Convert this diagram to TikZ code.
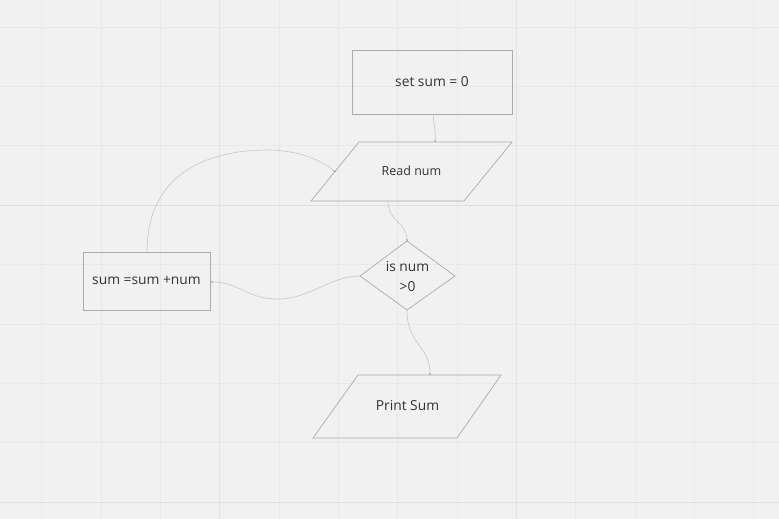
\documentclass[tikz,border=0pt]{standalone}
\usepackage{fontspec}
\setmainfont{Open Sans}
\usetikzlibrary{arrows.meta}
\definecolor{bg}{HTML}{F1F1F1}
\definecolor{gridminor}{HTML}{E8E8E8}
\definecolor{gridmajor}{HTML}{E0E0E0}
\definecolor{shapeline}{HTML}{ABABAB}
\definecolor{conn}{HTML}{C6C6C6}
\definecolor{txt}{HTML}{333333}
\tikzset{
  box/.style={draw=shapeline, line width=0.9pt},
  slant/.style={draw=shapeline, line width=0.7pt, line join=miter},
  label/.style={text=txt, font=\fontsize{13.8}{20}\selectfont, align=center, inner sep=0pt},
  link/.style={draw=conn, line width=0.6pt, -{Stealth[length=1.6pt,width=1.6pt,color=gray]}}
}
\begin{document}
\begin{tikzpicture}[x=1pt,y=-1pt]
\fill[bg] (0,0) rectangle (779,519);
\useasboundingbox (0,0) rectangle (779,519);
% grid
\foreach \i in {0,...,12}{
  \pgfmathsetmacro\xx{41.5+59.35*\i}
  \draw[gridminor, line width=0.5pt] (\xx,0) -- (\xx,519);
}
\foreach \i in {0,...,8}{
  \pgfmathsetmacro\yy{27+59.35*\i}
  \draw[gridminor, line width=0.5pt] (0,\yy) -- (779,\yy);
}
\draw[gridmajor, line width=0.6pt] (219.5,0) -- (219.5,519);
\draw[gridmajor, line width=0.6pt] (516.3,0) -- (516.3,519);
\draw[gridmajor, line width=0.6pt] (0,205) -- (779,205);
\draw[gridmajor, line width=0.6pt] (0,502) -- (779,502);

% set sum = 0
\draw[box] (352,50) rectangle (512,114);
\node[label] (init) at (432,82) {set sum = 0};
\coordinate (initS) at (433,114);

% Read num
\draw[slant] (359,142) -- (512,142) -- (464,201) -- (311,201) -- cycle;
\node[label, font=\fontsize{12.5}{15}\selectfont] (read) at (411.5,171) {Read num};
\coordinate (readN) at (435,142);
\coordinate (readS) at (388,201);
\coordinate (readW) at (335,172);

% decision
\draw[slant] (407,241) -- (455,276) -- (407,310) -- (360,276) -- cycle;
\node[label, font=\fontsize{13.8}{20}\selectfont] (dec) at (407.5,277) {is num\\>0};
\coordinate (decN) at (407,241);
\coordinate (decW) at (360,276);
\coordinate (decS) at (407,310);

% sum = sum + num
\draw[box] (83,252) rectangle (210,310);
\node[label] (add) at (146.5,280.5) {sum =sum +num};
\coordinate (addN) at (147,252);
\coordinate (addE) at (211,282);

% Print Sum
\draw[slant] (358,375) -- (501,375) -- (457,438) -- (313,438) -- cycle;
\node[label] (print) at (407.5,405) {Print Sum};
\coordinate (printN) at (430,375);

% connectors
\path[link] (initS) .. controls (434,125) and (436,132) .. (readN);
\path[link] (readS) .. controls (388,222) and (407,222) .. (decN);
\path[link] (decS) .. controls (407,345) and (430,345) .. (printN);
\path[link] (decW) .. controls (330,276) and (310,299) .. (278,299)
  .. controls (246,299) and (240,282) .. (addE);
\path[link] (addN) .. controls (147,175) and (205,150) .. (268,150)
  .. controls (300,150) and (325,162) .. (readW);
\end{tikzpicture}
\end{document}
